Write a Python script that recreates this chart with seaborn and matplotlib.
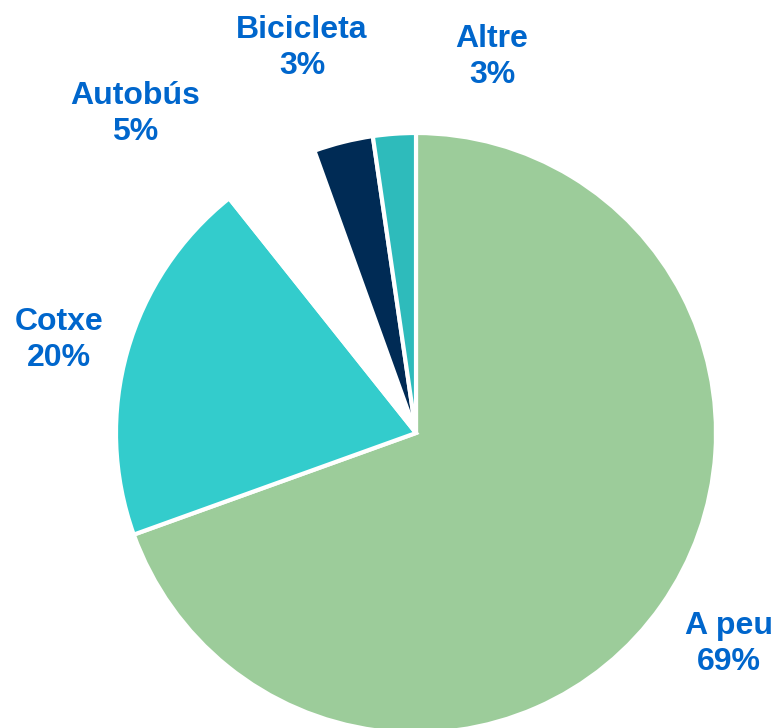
import matplotlib
matplotlib.use("Agg")
import matplotlib.pyplot as plt
import seaborn as sns

sns.set_theme(style="white")
plt.rcParams['font.family'] = ['Liberation Sans', 'DejaVu Sans']

categories = ["A peu", "Cotxe", "Autobús", "Bicicleta", "Altre"]
shares = [69.5, 19.8, 5.2, 3.2, 2.3]
pct_labels = ["69%", "20%", "5%", "3%", "3%"]
colors = ["#9CCC9A", "#33CCCC", "#FFFFFF", "#002B55", "#2EBBBB"]

W, H = 779, 728
cx, cy, R = 416, 433, 300

fig = plt.figure(figsize=(W / 100, H / 100), dpi=100)
ax = fig.add_axes([0, 0, 1, 1])
ax.pie(shares, colors=colors, startangle=90, counterclock=False,
       wedgeprops=dict(edgecolor="white", linewidth=3))
ax.set_xlim(-cx / R, (W - cx) / R)
ax.set_ylim(-(H - cy) / R, cy / R)
ax.set_aspect("equal")
ax.axis("off")

# label positions (pixel centres in the reference)
label_px = [(729, 644), (59, 340), (135, 114), (302, 48), (492, 57)]
for cat, pct, (px, py) in zip(categories, pct_labels, label_px):
    ax.text((px - cx) / R, (cy - py) / R, f"{cat}\n{pct}",
            ha="center", va="center", fontsize=23, fontweight="bold",
            color="#0066CC", linespacing=1.25)

fig.savefig("out.png", dpi=100)
